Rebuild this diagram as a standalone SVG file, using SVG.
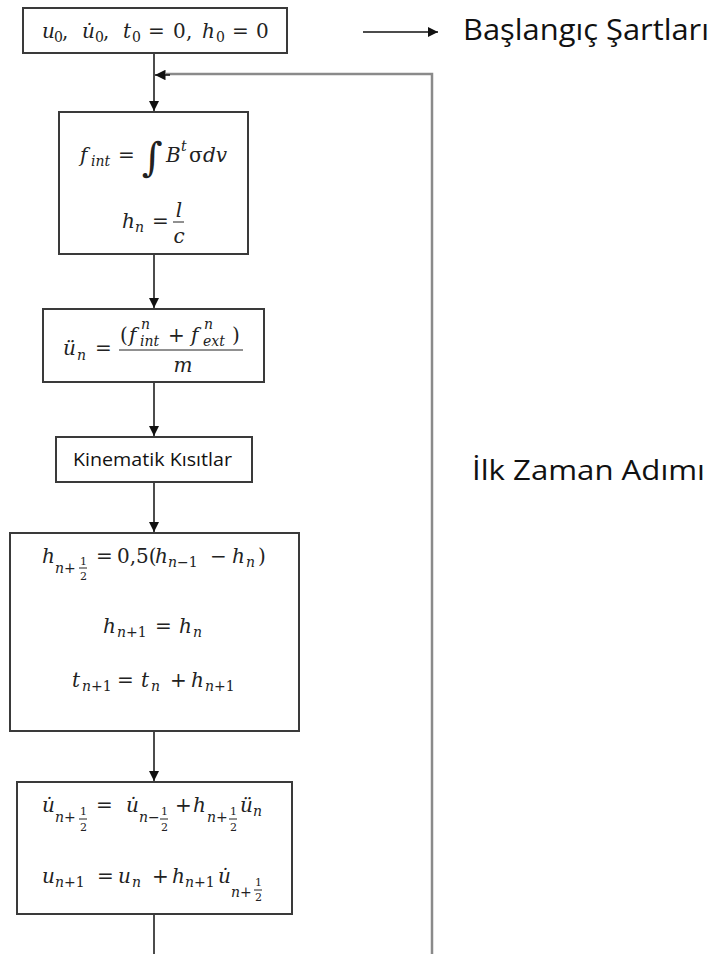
<svg xmlns="http://www.w3.org/2000/svg" width="716" height="954" viewBox="0 0 716 954">
<style>
.box{fill:#fff;stroke:#3a3a3a;stroke-width:2}
.t{font-family:"DejaVu Serif",serif;font-size:20px;fill:#222}
.i{font-style:italic}
.s{font-size:14px}
.f{font-size:11px}
.big{font-size:40px}
.lab{font-family:"Open Sans","Noto Sans",sans-serif;fill:#111}
.con{stroke:#111;stroke-width:1.5;fill:none}
.gray{stroke:#8a8a8a;stroke-width:2.5;fill:none}
.bar{stroke:#222;stroke-width:1}
</style>
<defs>
<marker id="ah" viewBox="0 0 10 10" refX="10" refY="5" markerWidth="7" markerHeight="7" orient="auto" markerUnits="strokeWidth">
<path d="M0,0 L10,5 L0,10 z" fill="#111"/>
</marker>
</defs>

<g id="connectors">
<line class="con" x1="154" y1="53" x2="154" y2="111" marker-end="url(#ah)"/>
<polyline class="gray" points="432,954 432,74 166,74"/>
<line class="con" x1="170" y1="75" x2="155" y2="75" marker-end="url(#ah)"/>
<line class="con" x1="154" y1="254" x2="154" y2="308" marker-end="url(#ah)"/>
<line class="con" x1="154" y1="382" x2="154" y2="436" marker-end="url(#ah)"/>
<line class="con" x1="154" y1="482" x2="154" y2="532" marker-end="url(#ah)"/>
<line class="con" x1="154" y1="731" x2="154" y2="781" marker-end="url(#ah)"/>
<line class="con" x1="154" y1="914" x2="154" y2="954"/>
<line class="con" x1="363" y1="32" x2="438" y2="32" marker-end="url(#ah)"/>
</g>

<g id="n1">
<rect class="box" x="23" y="8" width="264" height="45"/>
<text class="t"><tspan class="i" x="42" y="38">u</tspan><tspan class="s" x="54" y="42">0</tspan><tspan x="62" y="38">,</tspan><tspan class="i" x="82" y="38">u&#x307;</tspan><tspan class="s" x="95" y="42">0</tspan><tspan x="103" y="38">,</tspan><tspan class="i" x="123" y="38">t</tspan><tspan class="s" x="132" y="42">0</tspan><tspan x="148" y="38">=</tspan><tspan x="173" y="38">0</tspan><tspan x="186" y="38">,</tspan><tspan class="i" x="202" y="38">h</tspan><tspan class="s" x="216" y="42">0</tspan><tspan x="232" y="38">=</tspan><tspan x="256" y="38">0</tspan></text>
</g>

<g id="lbl-start">
<text class="lab" x="463" y="40" font-size="29" textLength="246" lengthAdjust="spacingAndGlyphs">Başlangıç Şartları</text>
</g>

<g id="n2">
<rect class="box" x="59" y="112" width="189" height="142"/>
<text class="t"><tspan class="i" x="80" y="162">f</tspan><tspan class="i s" x="91" y="166">int</tspan><tspan x="118" y="162">=</tspan><tspan class="big" x="142" y="171">∫</tspan><tspan class="i" x="166" y="162">B</tspan><tspan class="i s" x="181" y="151">t</tspan><tspan x="189" y="162">σ</tspan><tspan class="i" x="203" y="162">dv</tspan></text>
<text class="t"><tspan class="i" x="122" y="228">h</tspan><tspan class="i s" x="135" y="232">n</tspan><tspan x="152" y="228">=</tspan></text>
<line class="bar" x1="173" y1="222" x2="184" y2="222"/>
<text class="t i" x="179" y="217" text-anchor="middle">l</text>
<text class="t i" x="179" y="243" text-anchor="middle">c</text>
</g>

<g id="n3">
<rect class="box" x="43" y="309" width="221" height="73"/>
<text class="t"><tspan class="i" x="63" y="355">ü</tspan><tspan class="i s" x="77" y="360">n</tspan><tspan x="95" y="355">=</tspan></text>
<line class="bar" x1="119" y1="350" x2="243" y2="350"/>
<text class="t"><tspan x="120" y="342">(</tspan><tspan class="i" x="129" y="342">f</tspan><tspan class="i s" x="141" y="329">n</tspan><tspan class="i s" x="140" y="346">int</tspan><tspan x="168" y="342">+</tspan><tspan class="i" x="191" y="342">f</tspan><tspan class="i s" x="204" y="329">n</tspan><tspan class="i s" x="203" y="346">ext</tspan><tspan x="232" y="342">)</tspan></text>
<text class="t i" x="183" y="372" text-anchor="middle">m</text>
</g>

<g id="n4">
<rect class="box" x="56" y="437" width="196" height="45"/>
<text class="lab" x="73" y="466" font-size="17.5" textLength="159" lengthAdjust="spacingAndGlyphs">Kinematik Kısıtlar</text>
</g>

<g id="n5">
<rect class="box" x="10" y="533" width="289" height="198"/>
<text class="t"><tspan class="i" x="42" y="563">h</tspan><tspan class="s" x="55" y="573"><tspan class="i">n</tspan>+</tspan><tspan class="f" x="80" y="565">1</tspan><tspan class="f" x="80" y="580">2</tspan><tspan x="96" y="563">=</tspan><tspan x="117" y="563">0,5(</tspan><tspan class="i" x="155" y="563">h</tspan><tspan class="s" x="168" y="567"><tspan class="i">n</tspan>−1</tspan><tspan x="210" y="563">−</tspan><tspan class="i" x="232" y="563">h</tspan><tspan class="i s" x="246" y="567">n</tspan><tspan x="258" y="563">)</tspan></text>
<line class="bar" x1="79" y1="568" x2="87" y2="568"/>
<text class="t"><tspan class="i" x="103" y="633">h</tspan><tspan class="s" x="117" y="637"><tspan class="i">n</tspan>+1</tspan><tspan x="155" y="633">=</tspan><tspan class="i" x="179" y="633">h</tspan><tspan class="i s" x="193" y="637">n</tspan></text>
<text class="t"><tspan class="i" x="72" y="687">t</tspan><tspan class="s" x="82" y="691"><tspan class="i">n</tspan>+1</tspan><tspan x="117" y="687">=</tspan><tspan class="i" x="141" y="687">t</tspan><tspan class="i s" x="151" y="691">n</tspan><tspan x="170" y="687">+</tspan><tspan class="i" x="191" y="687">h</tspan><tspan class="s" x="205" y="691"><tspan class="i">n</tspan>+1</tspan></text>
</g>

<g id="n6">
<rect class="box" x="17" y="782" width="275" height="132"/>
<text class="t"><tspan class="i" x="42" y="812">u&#x307;</tspan><tspan class="s" x="55" y="822"><tspan class="i">n</tspan>+</tspan><tspan class="f" x="80" y="815">1</tspan><tspan class="f" x="80" y="831">2</tspan><tspan x="96" y="812">=</tspan><tspan class="i" x="126" y="812">u&#x307;</tspan><tspan class="s" x="139" y="822"><tspan class="i">n</tspan>−</tspan><tspan class="f" x="161" y="815">1</tspan><tspan class="f" x="161" y="831">2</tspan><tspan x="175" y="812">+</tspan><tspan class="i" x="193" y="812">h</tspan><tspan class="s" x="207" y="822"><tspan class="i">n</tspan>+</tspan><tspan class="f" x="230" y="815">1</tspan><tspan class="f" x="230" y="831">2</tspan><tspan class="i" x="240" y="812">ü</tspan><tspan class="i s" x="253" y="816">n</tspan></text>
<line class="bar" x1="79" y1="819" x2="87" y2="819"/>
<line class="bar" x1="160" y1="819" x2="168" y2="819"/>
<line class="bar" x1="229" y1="819" x2="237" y2="819"/>
<text class="t"><tspan class="i" x="42" y="883">u</tspan><tspan class="s" x="55" y="887"><tspan class="i">n</tspan>+1</tspan><tspan x="97" y="883">=</tspan><tspan class="i" x="118" y="883">u</tspan><tspan class="i s" x="132" y="887">n</tspan><tspan x="152" y="883">+</tspan><tspan class="i" x="172" y="883">h</tspan><tspan class="s" x="185" y="887"><tspan class="i">n</tspan>+1</tspan><tspan class="i" x="218" y="883">u&#x307;</tspan><tspan class="s" x="231" y="897"><tspan class="i">n</tspan>+</tspan><tspan class="f" x="255" y="886">1</tspan><tspan class="f" x="255" y="901">2</tspan></text>
<line class="bar" x1="254" y1="890" x2="262" y2="890"/>
</g>

<g id="lbl-step">
<text class="lab" x="472" y="480" font-size="28" textLength="233" lengthAdjust="spacingAndGlyphs">İlk Zaman Adımı</text>
</g>
</svg>
